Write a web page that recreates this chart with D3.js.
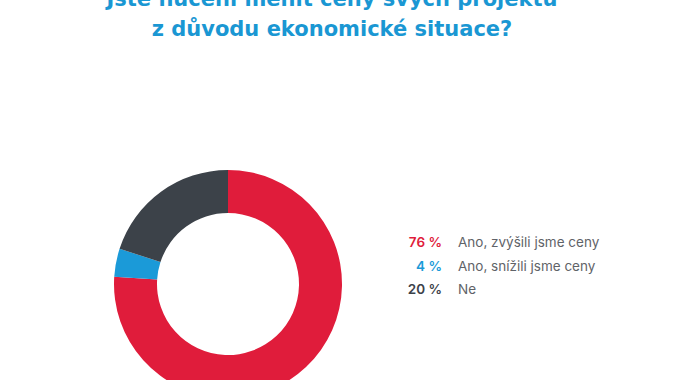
<!DOCTYPE html>
<html>
<head>
<meta charset="utf-8">
<script src="https://cdn.jsdelivr.net/npm/d3@7"></script>
<style>
	body { margin: 0; background: #fff; }
	svg { display: block; }
</style>
</head>
<body>
<div id="vis"></div>
<script>
// data
var titleLines = ['Jste nucení měnit ceny svých projektů', 'z důvodu ekonomické situace?'];
var categories = ['Ano, zvýšili jsme ceny', 'Ano, snížili jsme ceny', 'Ne'];
var values = [76, 4, 20];
var colours = ['#e01c3b', '#1b9ad8', '#3c4249'];

var width = 674, height = 380;

var svg = d3.select('#vis').append('svg')
	.attr('width', width)
	.attr('height', height);

// title (top line is partly cut off in the original)
svg.selectAll('text.title')
	.data(titleLines)
	.enter().append('text')
	.attr('class', 'title')
	.attr('x', 332)
	.attr('y', function(d, i) { return 6 + i * 30; })
	.attr('text-anchor', 'middle')
	.style('font-family', '"DejaVu Sans", sans-serif')
	.style('font-weight', 700)
	.style('font-size', '21px')
	.style('fill', '#1a97d3')
	.text(function(d) { return d; });

// donut
var cx = 228, cy = 284, outerR = 114, innerR = 71;

var pie = d3.pie().sort(null).value(function(d) { return d; });
var arc = d3.arc().innerRadius(innerR).outerRadius(outerR);

svg.append('g')
	.attr('transform', 'translate(' + cx + ',' + cy + ')')
	.selectAll('path')
	.data(pie(values))
	.enter().append('path')
	.attr('d', arc)
	.style('fill', function(d, i) { return colours[i]; });

// legend
var rowY = d3.scalePoint().domain(categories).range([247, 294]);

var legend = svg.append('g');

legend.selectAll('text.pct')
	.data(categories)
	.enter().append('text')
	.attr('class', 'pct')
	.attr('x', 442)
	.attr('y', function(d) { return rowY(d); })
	.attr('text-anchor', 'end')
	.style('font-family', 'Inter, sans-serif')
	.style('font-weight', 600)
	.style('font-size', '13.5px')
	.style('fill', function(d, i) { return colours[i]; })
	.text(function(d, i) { return values[i] + ' %'; });

legend.selectAll('text.lbl')
	.data(categories)
	.enter().append('text')
	.attr('class', 'lbl')
	.attr('x', 458)
	.attr('y', function(d) { return rowY(d); })
	.style('font-family', 'Inter, sans-serif')
	.style('font-size', '13.5px')
	.style('fill', '#5f6368')
	.text(function(d) { return d; });
</script>
</body>
</html>
